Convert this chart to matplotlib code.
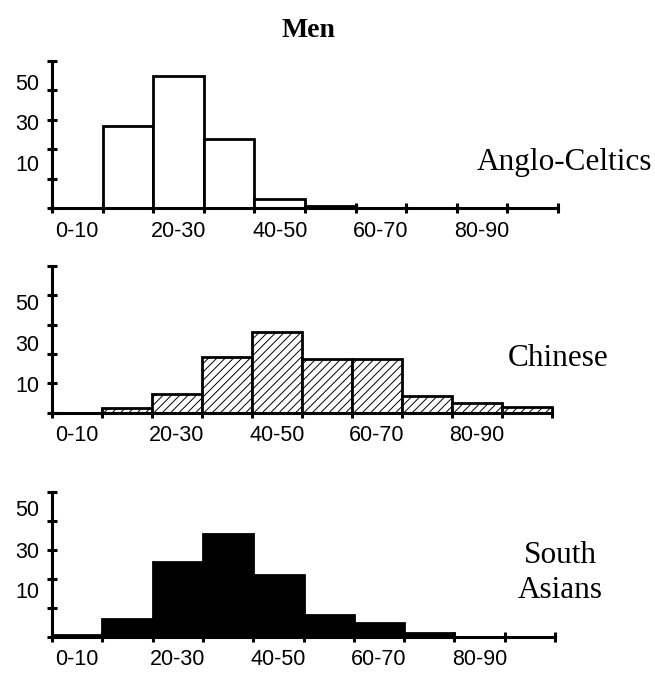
import matplotlib
matplotlib.use("Agg")
import matplotlib.pyplot as plt

plt.rcParams['hatch.linewidth'] = 0.7
plt.rcParams['hatch.color'] = '#333333'

bins = [0, 10, 20, 30, 40, 50, 60, 70, 80, 90]
xlabels = ["0-10", "20-30", "40-50", "60-70", "80-90"]
ylabels = ["50", "30", "10"]

anglo = [0, 28, 44.8, 23.5, 3.2, 0.8, 0, 0, 0, 0]
chinese = [0, 1.6, 6.4, 18.9, 27.6, 18.4, 18.4, 5.7, 3.4, 1.8]
south = [0.6, 6.1, 25.6, 35.3, 21.3, 7.4, 4.8, 1.2, 0, 0]

# per-panel positions of the (odd) y labels, in data units
ylab_pos = [[42.9, 29.3, 15.3], [37.7, 23.7, 9.8], [44.4, 29.9, 16.0]]

W, H = 655, 673
fig = plt.figure(figsize=(W / 100, H / 100), dpi=100)

# (left px, right px, baseline px, top px)
panels = [(52, 558, 208.3, 61), (52, 552, 412.7, 266), (52, 555, 636.7, 491.7)]
styles = [dict(color='white', hatch=None),
          dict(color='white', hatch='////'),
          dict(color='black', hatch=None)]
data = [anglo, chinese, south]

for (l, r, b, t), st, vals, ypos in zip(panels, styles, data, ylab_pos):
    ax = fig.add_axes([l / W, 1 - b / H, (r - l) / W, (b - t) / H])
    ax.bar(bins, vals, width=10, align='edge', color=st['color'],
           edgecolor='black', linewidth=2.0, hatch=st['hatch'], zorder=2,
           clip_on=False)
    ax.set_xlim(0, 100)
    ax.set_ylim(0, 50)
    for s in ['top', 'right']:
        ax.spines[s].set_visible(False)
    for s in ['left', 'bottom']:
        ax.spines[s].set_linewidth(2.2)
        ax.spines[s].set_zorder(3)
    ax.set_xticks(range(0, 101, 10))
    ax.set_xticklabels([])
    ax.set_yticks(range(0, 51, 10))
    ax.set_yticklabels([])
    ax.set_xticks([5, 25, 45, 65, 85], labels=xlabels, minor=True)
    ax.set_yticks(ypos, labels=ylabels, minor=True)
    ax.tick_params(which='major', direction='inout', length=7, width=2.2)
    ax.tick_params(which='minor', length=0)
    ax.tick_params(axis='x', which='minor', pad=9, labelsize=15.5)
    ax.tick_params(axis='y', which='minor', pad=9, labelsize=15.5)
    for lab in ax.get_xticklabels(minor=True) + ax.get_yticklabels(minor=True):
        lab.set_fontfamily('Liberation Sans')
    ax.patch.set_visible(False)

serif = 'Liberation Serif'
fig.text(308 / W, 1 - 37.3 / H, "Men", ha='center', va='baseline',
         fontsize=20, fontweight='bold', family=serif)
fig.text(477 / W, 1 - 170 / H, "Anglo-Celtics", ha='left', va='baseline',
         fontsize=22.5, family=serif)
fig.text(508 / W, 1 - 366 / H, "Chinese", ha='left', va='baseline',
         fontsize=22.5, family=serif)
fig.text(560 / W, 1 - 563 / H, "South", ha='center', va='baseline',
         fontsize=22.5, family=serif)
fig.text(560 / W, 1 - 598 / H, "Asians", ha='center', va='baseline',
         fontsize=22.5, family=serif)

fig.savefig("out.png", dpi=100)
